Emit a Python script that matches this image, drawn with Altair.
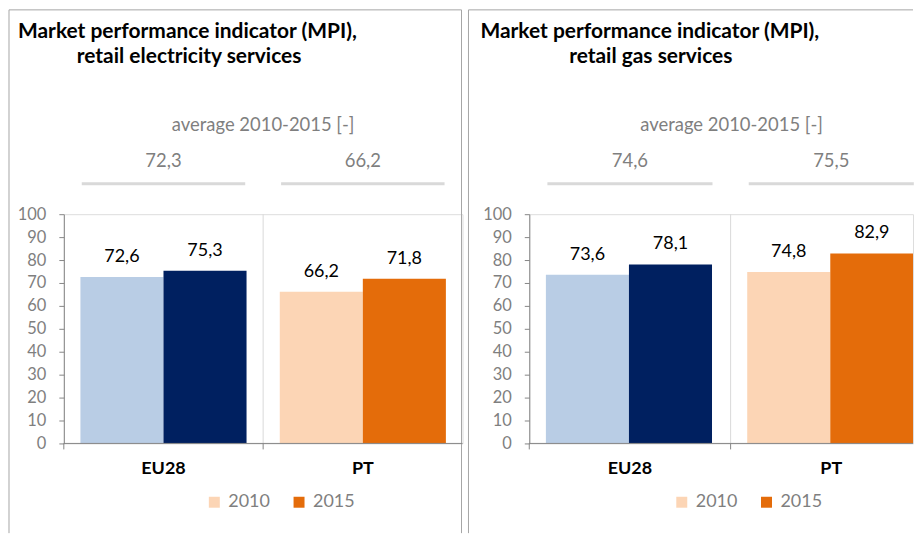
import altair as alt
import pandas as pd

FONT = "Lato"
GRAY_TXT = "#7F7F7F"
AXIS_GRAY = "#868686"
BORDER = "#A6A6A6"
LIGHT = "#D9D9D9"

categories = ["EU28", "PT"]
years = ["2010", "2015"]
elec_2010 = [72.6, 66.2]
elec_2015 = [75.3, 71.8]
gas_2010 = [73.6, 74.8]
gas_2015 = [78.1, 82.9]
elec_avg = [72.3, 66.2]
gas_avg = [74.6, 75.5]
elec_title = ["Market performance indicator (MPI),", "retail electricity services"]
gas_title = ["Market performance indicator (MPI),", "retail gas services"]
avg_caption = "average 2010-2015 [-]"
y_ticks = [0, 10, 20, 30, 40, 50, 60, 70, 80, 90, 100]
series_domain = ["EU28 2010", "EU28 2015", "PT 2010", "PT 2015"]
series_colors = ["#B9CDE5", "#002060", "#FCD5B5", "#E46C0A"]
legend_series = ["PT 2010", "PT 2015"]

H = 230
TOP = -205
BOTTOM = 320


def fmt(v):
    return f"{v:.1f}".replace(".", ",")


def one(text):
    return alt.Chart(pd.DataFrame({"t": [text]}))


def panel(v10, v15, avgs, title_lines, W, rng, g):
    rows = []
    for c, a, b in zip(categories, v10, v15):
        rows.append({"category": c, "year": "2010", "series": f"{c} 2010", "value": a, "label": fmt(a)})
        rows.append({"category": c, "year": "2015", "series": f"{c} 2015", "value": b, "label": fmt(b)})
    bars_df = pd.DataFrame(rows)
    avg_df = pd.DataFrame({"category": categories, "label": [fmt(a) for a in avgs]})
    cat_df = pd.DataFrame({"category": categories})
    div_df = pd.DataFrame({"category": categories[1:]})

    xscale = alt.Scale(domain=categories, range=[0, rng], paddingInner=0, paddingOuter=0)
    X = alt.X("category:N", scale=xscale, axis=None)
    X0 = alt.X("category:N", scale=xscale, axis=None, bandPosition=0)
    XO = alt.XOffset("year:N", scale=alt.Scale(domain=years, paddingOuter=0.2, paddingInner=0))
    Y = alt.Y("value:Q", scale=alt.Scale(domain=[0, 100], nice=False),
              axis=alt.Axis(values=y_ticks, title=None, grid=False, domainColor=AXIS_GRAY,
                            tickColor=AXIS_GRAY, tickSize=5, labelColor=GRAY_TXT, labelFont=FONT,
                            labelFontSize=16.5, labelPadding=13))

    layers = []
    layers.append(one("").mark_rule(color=BORDER).encode(
        x=alt.value(g["bl"]), y=alt.value(TOP), y2=alt.value(BOTTOM)))
    layers.append(one("").mark_rule(color=BORDER).encode(
        x=alt.value(g["bl"]), x2=alt.value(g["br"]), y=alt.value(TOP)))
    if g["right"]:
        layers.append(one("").mark_rule(color=BORDER).encode(
            x=alt.value(g["br"]), y=alt.value(TOP), y2=alt.value(BOTTOM)))
    layers.append(one(title_lines[0]).mark_text(align="left", baseline="middle", font=FONT,
                                                fontSize=21, fontWeight="bold", color="black").encode(
        x=alt.value(g["t1"]), y=alt.value(-183), text="t:N"))
    layers.append(one(title_lines[1]).mark_text(align="left", baseline="middle", font=FONT,
                                                fontSize=21, fontWeight="bold", color="black").encode(
        x=alt.value(g["t2"]), y=alt.value(-158), text="t:N"))
    layers.append(one(avg_caption).mark_text(align="center", baseline="middle", font=FONT,
                                             fontSize=18.5, color=GRAY_TXT).encode(
        x=alt.value(g["cap"]), y=alt.value(-89), text="t:N"))
    layers.append(alt.Chart(avg_df).mark_text(align="center", baseline="middle", font=FONT,
                                              fontSize=18.5, color=GRAY_TXT).encode(
        x=X, y=alt.value(-53), text="label:N"))
    layers.append(alt.Chart(avg_df).mark_bar(color=LIGHT, width=alt.RelativeBandSize(0.82)).encode(
        x=X, y=alt.value(-32), y2=alt.value(-29)))
    layers.append(alt.Chart(div_df).mark_rule(color=LIGHT).encode(
        x=X0, y=alt.value(0), y2=alt.value(H)))
    layers.append(alt.Chart(bars_df).mark_bar(clip=True).encode(
        x=X, xOffset=XO, y=Y,
        color=alt.Color("series:N", scale=alt.Scale(domain=series_domain, range=series_colors),
                        legend=alt.Legend(values=legend_series, labelExpr="slice(datum.label, -4)",
                                          orient="none", legendX=g["lx"], legendY=280,
                                          direction="horizontal", title=None, symbolType="square",
                                          symbolSize=121, symbolStrokeWidth=0, symbolOpacity=1,
                                          labelFont=FONT, labelFontSize=18, labelColor=GRAY_TXT,
                                          columnPadding=20, labelOffset=5, padding=0))))
    layers.append(alt.Chart(bars_df).mark_text(font=FONT, fontSize=18, color="black",
                                               baseline="middle", dy=-20).encode(
        x=X, xOffset=XO, y=Y, text="label:N"))
    layers.append(one("").mark_rule(color=AXIS_GRAY).encode(
        x=alt.value(0), x2=alt.value(W), y=alt.value(H)))
    layers.append(alt.Chart(cat_df).mark_rule(color=AXIS_GRAY).encode(
        x=X0, y=alt.value(H), y2=alt.value(H + 6)))
    layers.append(alt.Chart(cat_df).mark_text(font=FONT, fontSize=18, fontWeight="bold",
                                              color="black", baseline="middle").encode(
        x=X, y=alt.value(H + 26), text="category:N"))

    return alt.layer(*layers).properties(width=W, height=H)


p1 = panel(elec_2010, elec_2015, elec_avg, elec_title, 400, 400,
           {"bl": -55, "br": 399, "right": True, "t1": -46, "t2": 13, "cap": 200, "lx": 142})
p2 = panel(gas_2010, gas_2015, gas_avg, gas_title, 385, 404,
           {"bl": -61, "br": 385, "right": False, "t1": -49, "t2": 40, "cap": 203, "lx": 144})

chart = (alt.hconcat(p1, p2, spacing=4)
         .resolve_scale(color="independent")
         .properties(padding=0)
         .configure_view(stroke=None)
         .configure(font=FONT))

chart.save("out.html", embed_options={"renderer": "svg", "actions": False})
